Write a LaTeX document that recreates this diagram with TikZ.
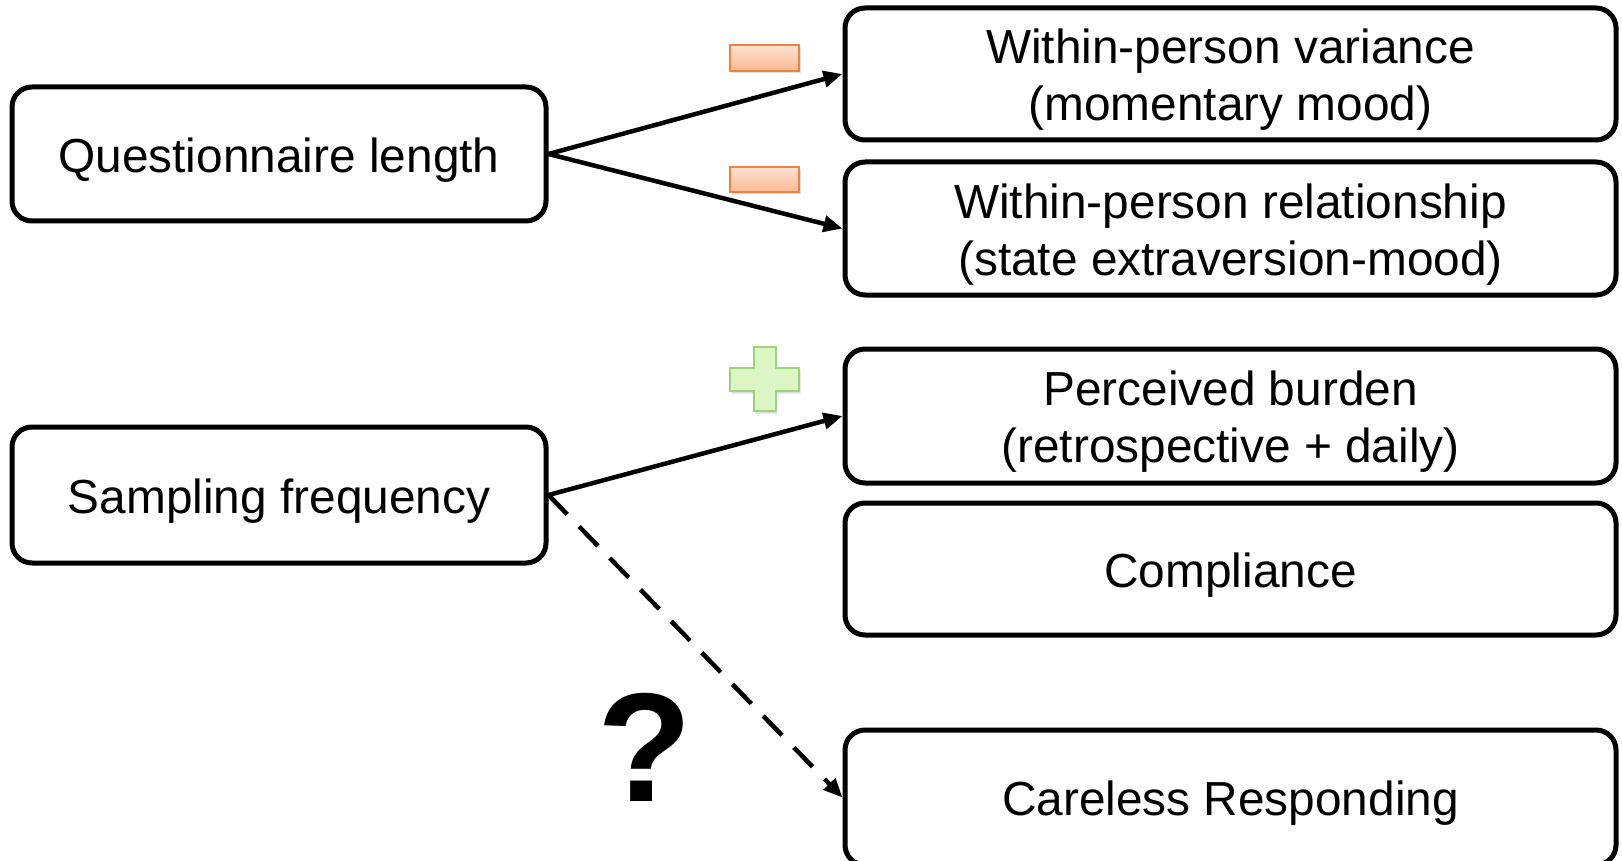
\documentclass[tikz,border=0pt]{standalone}
\usepackage{fontspec}
\setmainfont{Liberation Sans}
\usetikzlibrary{arrows.meta,shadows}
\definecolor{minusline}{HTML}{EE8240}
\definecolor{minustop}{HTML}{FDE3D3}
\definecolor{minusbot}{HTML}{FBB992}
\definecolor{plusline}{HTML}{9ED27C}
\definecolor{plusfill}{HTML}{DDF6C6}
% a tall invisible strut that sets the first line a little lower in its box
\newcommand\firstlinestrut{\rule{0pt}{46pt}}
\begin{document}
\begin{tikzpicture}[x=1pt,y=-1pt,
  box/.style={draw=black,line width=5pt,rounded corners=20pt,inner sep=0pt,
    align=center,font=\fontsize{47.8}{57}\selectfont},
  leftbox/.style={box,minimum width=534pt},
  rightbox/.style={box,minimum width=771pt},
  link/.style={line width=4.5pt,-{Triangle[length=19pt,width=16pt]}},
  signshadow/.style={drop shadow={opacity=0.25,shadow xshift=1.5pt,shadow yshift=-2.5pt}},
  minussign/.style={draw=minusline,line width=2pt,top color=minustop,bottom color=minusbot,signshadow},
  plussign/.style={draw=plusline,line width=2pt,fill=plusfill,signshadow}]
\useasboundingbox (0,0) rectangle (1622,861);

% source boxes
\node[leftbox,minimum height=134pt] (qlen) at (279,154) {\firstlinestrut Questionnaire length};
\node[leftbox,minimum height=136pt] (sfreq) at (279,495) {\firstlinestrut Sampling frequency};

% outcome boxes
\node[rightbox,minimum height=132pt] (wvar) at (1230.5,74)
  {\firstlinestrut Within-person variance\\(momentary mood)};
\node[rightbox,minimum height=133pt] (wrel) at (1230.5,228.5)
  {\firstlinestrut Within-person relationship\\(state extraversion-mood)};
\node[rightbox,minimum height=134pt] (burden) at (1230.5,416)
  {\firstlinestrut Perceived burden\\(retrospective + daily)};
\node[rightbox,minimum height=132pt] (compl) at (1230.5,569) {\firstlinestrut Compliance};
\node[rightbox,minimum height=135pt] (careless) at (1230.5,797.5) {\firstlinestrut Careless Responding};

% effects
\draw[link] (qlen.east) -- (wvar.west);
\draw[link] (qlen.east) -- (wrel.west);
\draw[link] (sfreq.east) -- (burden.west);
\draw[link,dash pattern=on 27pt off 17pt] (sfreq.east) -- (careless.west);

% effect signs
\path[minussign] (730,45) rectangle (799,71);
\path[minussign] (730,167) rectangle (799,192);
\path[plussign] (753.5,347) -- (775.5,347) -- (775.5,368) -- (799,368) -- (799,391)
  -- (775.5,391) -- (775.5,411) -- (753.5,411) -- (753.5,391) -- (730,391)
  -- (730,368) -- (753.5,368) -- cycle;

% open question
\node[font=\fontsize{155}{160}\selectfont\bfseries,inner sep=0pt] (unknown) at (645,747) {?};
\end{tikzpicture}
\end{document}
